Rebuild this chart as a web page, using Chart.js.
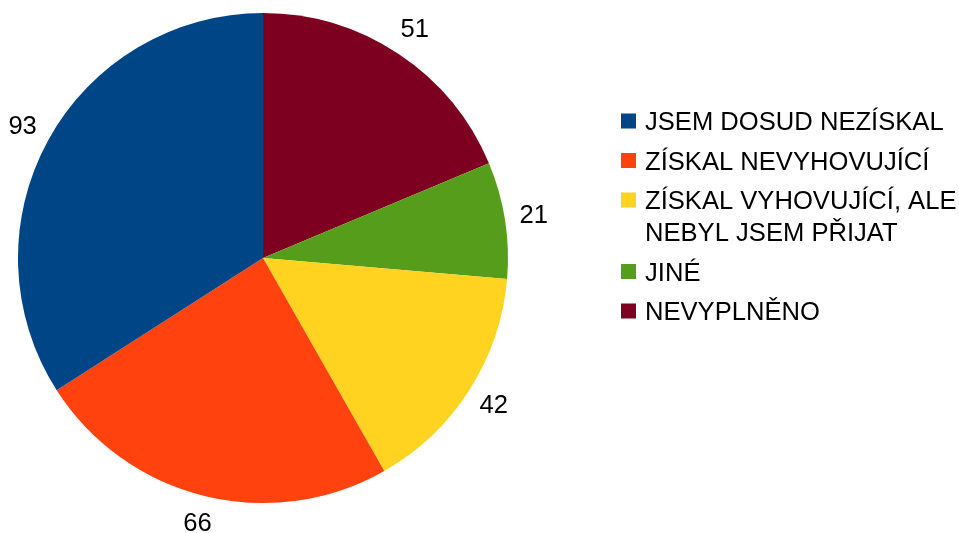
<!DOCTYPE html>
<html>
<head>
<meta charset="utf-8">
<script src="https://cdn.jsdelivr.net/npm/chart.js@4/dist/chart.umd.min.js"></script>
<style>
  html, body { margin: 0; padding: 0; background: #fff; }
  #wrap { position: relative; width: 959px; height: 533px; }
</style>
</head>
<body>
<div id="wrap"><canvas id="pie"></canvas></div>
<script>
// Answers, in legend order
const categories = [
    'JSEM DOSUD NEZÍSKAL',
    'ZÍSKAL NEVYHOVUJÍCÍ',
    'ZÍSKAL VYHOVUJÍCÍ, ALE NEBYL JSEM PŘIJAT',
    'JINÉ',
    'NEVYPLNĚNO'
];
const counts = [93, 66, 42, 21, 51];
const colors = ['#004586', '#ff420e', '#ffd320', '#579d1c', '#7e0021'];

const FONT = '25.6px "Liberation Sans", Arial, sans-serif';

// Slices go counter-clockwise from the top in legend order,
// Chart.js draws clockwise, so feed it the reversed lists
const pieLabels = categories.slice().reverse();
const pieValues = counts.slice().reverse();
const pieColors = colors.slice().reverse();

// Split a legend label into lines that fit maxWidth
function wrapText(ctx, text, maxWidth) {
    const words = text.split(' ');
    const lines = [];
    let line = '';
    words.forEach(word => {
        const test = line ? line + ' ' + word : word;
        if (ctx.measureText(test).width > maxWidth && line) {
            lines.push(line);
            line = word;
        } else {
            line = test;
        }
    });
    if (line) lines.push(line);
    return lines;
}

// Value labels outside each slice
const outsideLabels = {
    id: 'outsideLabels',
    afterDatasetsDraw(chart) {
        const ctx = chart.ctx;
        const meta = chart.getDatasetMeta(0);
        ctx.save();
        ctx.font = FONT;
        ctx.fillStyle = '#000';
        ctx.textAlign = 'center';
        ctx.textBaseline = 'middle';
        meta.data.forEach((arc, i) => {
            const mid = (arc.startAngle + arc.endAngle) / 2;
            const r = arc.outerRadius + 29;
            ctx.fillText(String(pieValues[i]), arc.x + Math.cos(mid) * r, arc.y + Math.sin(mid) * r);
        });
        ctx.restore();
    }
};

// Legend on the right with wrapping text
const sideLegend = {
    id: 'sideLegend',
    afterDraw(chart) {
        const ctx = chart.ctx;
        const boxX = 621, textX = 645, box = 15;
        const lineH = 32, gap = 39.5;
        let y = 121;
        ctx.save();
        ctx.font = FONT;
        ctx.textBaseline = 'middle';
        ctx.textAlign = 'left';
        categories.forEach((name, i) => {
            const lines = wrapText(ctx, name, 312);
            ctx.fillStyle = colors[i];
            ctx.fillRect(boxX, y - box / 2, box, box);
            ctx.fillStyle = '#000';
            lines.forEach((ln, j) => ctx.fillText(ln, textX, y + 2 + j * lineH));
            y += (lines.length - 1) * lineH + gap;
        });
        ctx.restore();
    }
};

new Chart(document.getElementById('pie'), {
    type: 'pie',
    data: {
        labels: pieLabels,
        datasets: [{
            data: pieValues,
            backgroundColor: pieColors,
            borderWidth: 0
        }]
    },
    options: {
        responsive: true,
        maintainAspectRatio: false,
        animation: false,
        layout: { padding: { left: 18, top: 13, right: 451, bottom: 30 } },
        plugins: {
            legend: { display: false },
            tooltip: { enabled: false }
        }
    },
    plugins: [outsideLabels, sideLegend]
});
</script>
</body>
</html>
